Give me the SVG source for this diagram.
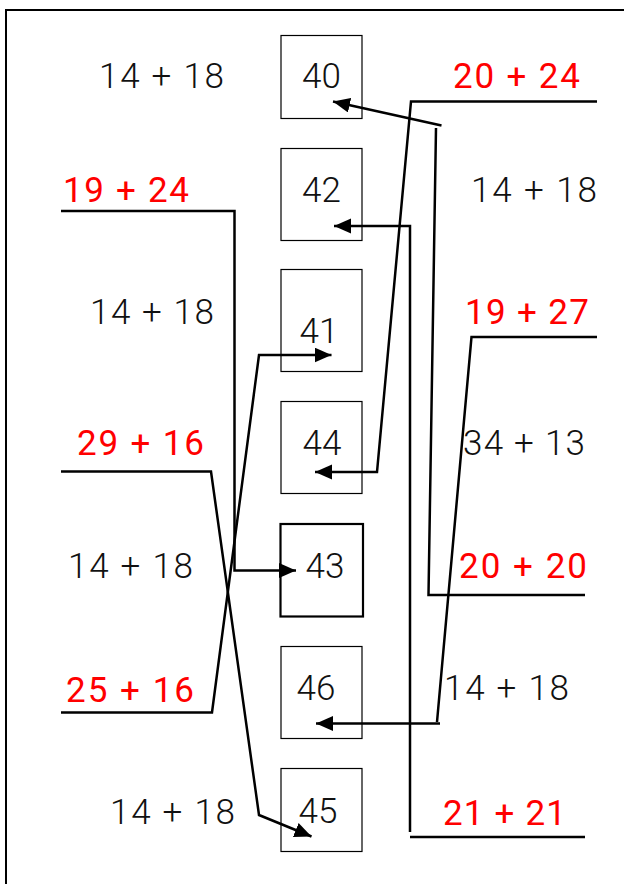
<svg xmlns="http://www.w3.org/2000/svg" width="624" height="884" viewBox="0 0 624 884">
<style>
.box{fill:none;stroke:#000;stroke-width:1.2}
.box2{fill:none;stroke:#000;stroke-width:2.2}
.num{font-family:Roboto,"Liberation Sans",sans-serif;font-size:35px;font-weight:300;fill:#111;text-anchor:middle}
.blk{font-family:Roboto,"Liberation Sans",sans-serif;font-size:35px;font-weight:300;fill:#111}
.red{font-family:Roboto,"Liberation Sans",sans-serif;font-size:35px;font-weight:400;fill:#ff0000}
.ln{fill:none;stroke:#000;stroke-width:2.5}
.arr{fill:none;stroke:#000;stroke-width:2.5;marker-end:url(#ah)}
</style>
<defs>
<marker id="ah" markerUnits="userSpaceOnUse" markerWidth="18" markerHeight="16" refX="17" refY="7.5" orient="auto">
<path d="M0,0 L17,7.5 L0,15 z" fill="#000"/>
</marker>
</defs>
<rect x="6" y="10" width="700" height="900" fill="#fff" stroke="#000" stroke-width="2"/>

<g id="box40"><rect class="box" x="281" y="35.5" width="81" height="83"/><text class="num" x="321.5" y="88">40</text></g>
<g id="box42"><rect class="box" x="281" y="148.5" width="81" height="92"/><text class="num" x="321.5" y="202">42</text></g>
<g id="box41"><rect class="box" x="281" y="269.5" width="81" height="102"/><text class="num" x="319" y="343">41</text></g>
<g id="box44"><rect class="box" x="281" y="401.5" width="81" height="92"/><text class="num" x="322" y="455">44</text></g>
<g id="box43"><rect class="box2" x="280.5" y="524" width="82.5" height="92.5"/><text class="num" x="325" y="578">43</text></g>
<g id="box46"><rect class="box" x="281" y="646.5" width="81" height="92"/><text class="num" x="316" y="700">46</text></g>
<g id="box45"><rect class="box" x="281" y="768.5" width="81" height="83"/><text class="num" x="318" y="823">45</text></g>

<g id="l1"><text class="blk" x="99" y="88" textLength="125">14 + 18</text></g>
<g id="r1"><text class="red" x="453" y="88" textLength="127">20 + 24</text></g>
<g id="l2"><text class="red" x="63" y="202" textLength="126">19 + 24</text></g>
<g id="r2"><text class="blk" x="471" y="202" textLength="126">14 + 18</text></g>
<g id="l3"><text class="blk" x="90" y="324" textLength="124">14 + 18</text></g>
<g id="r3"><text class="red" x="465" y="324" textLength="124">19 + 27</text></g>
<g id="l4"><text class="red" x="77" y="455" textLength="127">29 + 16</text></g>
<g id="r4"><text class="blk" x="463" y="455" textLength="122">34 + 13</text></g>
<g id="l5"><text class="blk" x="68" y="578" textLength="125">14 + 18</text></g>
<g id="r5"><text class="red" x="459" y="578" textLength="128">20 + 20</text></g>
<g id="l6"><text class="red" x="66" y="702" textLength="128">25 + 16</text></g>
<g id="r6"><text class="blk" x="444" y="700" textLength="125">14 + 18</text></g>
<g id="l7"><text class="blk" x="110" y="824" textLength="125">14 + 18</text></g>
<g id="r7"><text class="red" x="443" y="825" textLength="123">21 + 21</text></g>

<g id="connectors">
<polyline class="arr" points="597,101.5 411,101.5 377,472 315,472"/>
<polyline class="ln" points="585,595 428.5,595 436,128"/>
<line class="arr" x1="441.5" y1="125.5" x2="333" y2="101.5"/>
<polyline class="arr" points="61,211 234.5,211 234.5,570.5 296,570.5"/>
<polyline class="arr" points="410,832 410,226 334,226"/>
<line class="ln" x1="410" y1="837" x2="585" y2="837"/>
<polyline class="ln" points="597,337 471.5,337 437,722"/>
<line class="arr" x1="440" y1="723.5" x2="316" y2="723.5"/>
<polyline class="arr" points="61,471.5 211,471.5 259,815 311.5,836.5"/>
<polyline class="arr" points="61,712.5 212,712.5 259,355 331.5,355"/>
</g>
</svg>
